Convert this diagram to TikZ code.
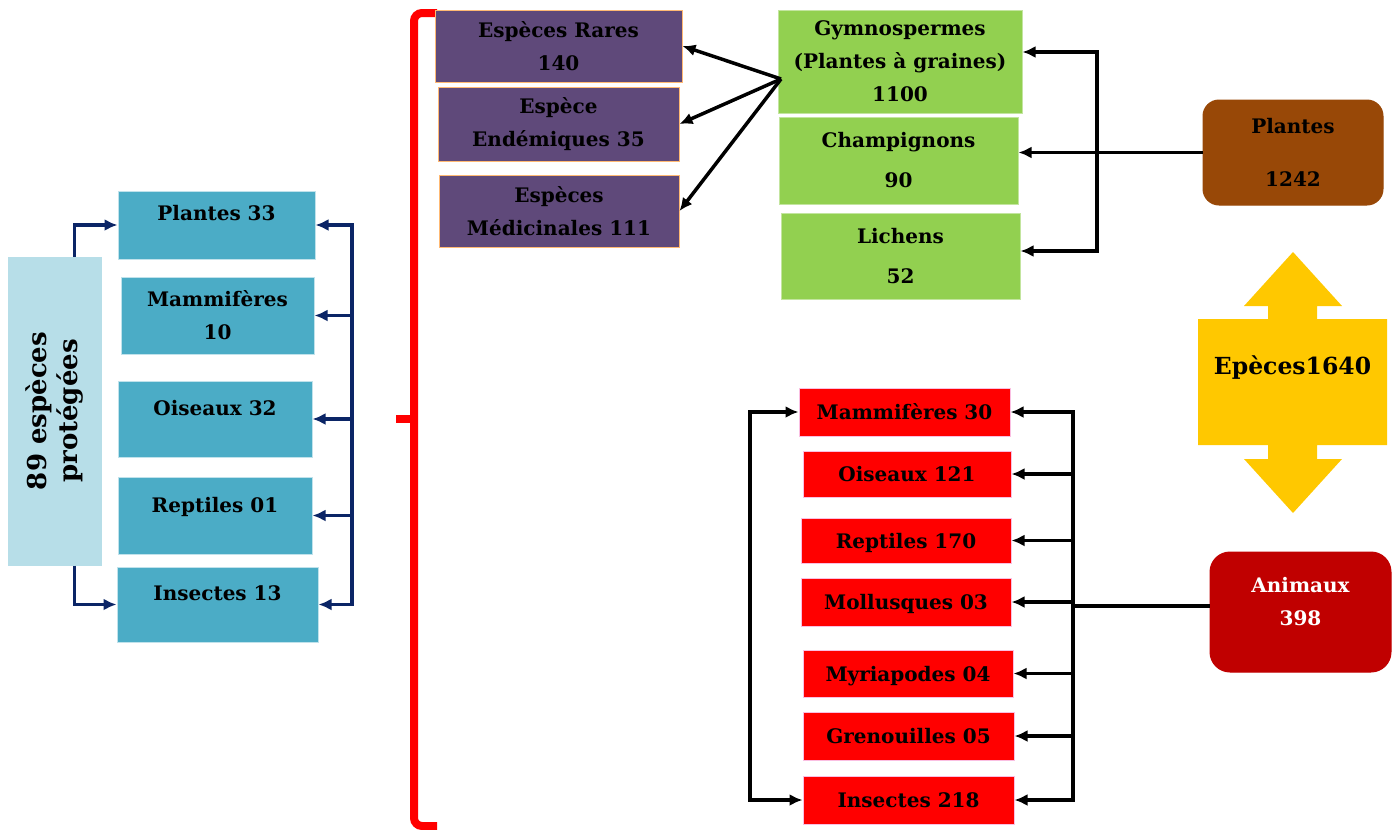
\documentclass[tikz,border=0pt]{standalone}
\usepackage{fontspec}
\setmainfont{DejaVu Serif}
\usetikzlibrary{arrows.meta}
\definecolor{bleuclair}{HTML}{B7DEE8}
\definecolor{bleu}{HTML}{4BACC6}
\definecolor{marine}{HTML}{0B2566}
\definecolor{mauve}{HTML}{5F497A}
\definecolor{vertclair}{HTML}{92D050}
\definecolor{brun}{HTML}{984807}
\definecolor{rougefonce}{HTML}{C00000}
\definecolor{jaune}{HTML}{FFC800}

\begin{document}
\begin{tikzpicture}[x=1pt,y=-1pt]
\tikzset{
  >={Latex[length=13pt,width=12pt]},
  boite/.style={draw, line width=1pt, inner sep=0pt, align=center, font=\bfseries\fontsize{20}{33}\selectfont},
  bleue/.style={boite, fill=bleu, draw=bleu!35},
  mauve/.style={boite, fill=mauve, draw=orange!55},
  verte/.style={boite, fill=vertclair, draw=vertclair!55},
  rouge/.style={boite, fill=red, draw=magenta!25, text height=15pt, text depth=0pt},
  fleche/.style={line width=3.5pt, ->},
  flecheB/.style={fleche, marine}
}
\useasboundingbox (0,0) rectangle (1395,830);

\node[boite, fill=bleuclair, draw=bleuclair, rotate=90, minimum width=308pt, minimum height=93pt,
  font=\bfseries\fontsize{26}{31}\selectfont] (total) at (54.5,411) {89 espèces\\protégées};

\node[bleue, minimum width=197pt, minimum height=68pt, text height=15pt, text depth=24pt] (pl33) at (216.5,225) {Plantes 33};
\node[bleue, minimum width=193pt, minimum height=77pt] (mam10) at (217.5,315.5) {Mammifères\\10};
\node[bleue, minimum width=194pt, minimum height=76pt, text height=15pt, text depth=22pt] (ois32) at (215,419) {Oiseaux 32};
\node[bleue, minimum width=194pt, minimum height=77pt, text height=15pt, text depth=22pt] (rep01) at (215,515.5) {Reptiles 01};
\node[bleue, minimum width=201pt, minimum height=75pt, text height=15pt, text depth=24pt] (ins13) at (217.5,604.5) {Insectes 13};

\draw[flecheB] ([xshift=20pt]total.east) |- (pl33.west);
\draw[flecheB] ([xshift=20pt]total.west) |- (ins13.west);
\coordinate (nb) at (352,0);
\draw[marine, line width=3.5pt, <->] (pl33.east) -- (nb |- pl33.east) -- (nb |- ins13.east) -- (ins13.east);
\foreach \n in {mam10,ois32,rep01}
  \draw[flecheB] (nb |- \n.east) -- (\n.east);

\draw[red, line width=8pt, rounded corners=8pt] (437,13) -- (414,13) -- (414,826) -- (437,826);
\draw[red, line width=8pt] (414,419) -- (396,419);

\node[mauve, minimum width=247pt, minimum height=72pt] (rares) at (558.5,46) {Espèces Rares\\140};
\node[mauve, minimum width=241pt, minimum height=74pt] (endem) at (558.5,124) {Espèce\\Endémiques 35};
\node[mauve, minimum width=240pt, minimum height=72pt] (medic) at (559,211) {Espèces\\Médicinales 111};

\node[verte, minimum width=244pt, minimum height=103pt] (gymno) at (900,61.5) {Gymnospermes\\(Plantes à graines)\\1100};
\node[verte, minimum width=239pt, minimum height=87pt] (champ) at (898.5,160.5) {Champignons\\[7pt]90};
\node[verte, minimum width=239pt, minimum height=86pt] (lichens) at (900.5,256) {Lichens\\[7pt]52};

\coordinate (depart) at (781,79);
\foreach \n in {rares,endem,medic}
  \draw[fleche] (depart) -- (\n.east);

\node[boite, fill=brun, draw=brun, rounded corners=16pt, minimum width=180pt, minimum height=105pt] (plantes) at (1293,152.5) {Plantes\\[20pt]1242};

\coordinate (pa) at (1097,52);
\coordinate (pb) at (1097,251);
\draw[line width=3.5pt, <->] (pa -| gymno.east) -- (pa) -- (pb) -- (pb -| lichens.east);
\draw[fleche] (plantes.west) -- (plantes.west -| champ.east);

\fill[jaune] (1198,319) -- (1268,319) -- (1268,306) -- (1244,306) -- (1293,252) -- (1342,306) -- (1317,306) -- (1317,319)
  -- (1387,319) -- (1387,445) -- (1317,445) -- (1317,459) -- (1342,459) -- (1293,513) -- (1244,459) -- (1268,459)
  -- (1268,445) -- (1198,445) -- cycle;
\node[font=\bfseries\fontsize{23.5}{28}\selectfont, inner sep=0pt] (especes) at (1292.5,368) {Epèces1640};

\node[rouge, minimum width=211pt, minimum height=48pt] (mam30) at (904.5,412) {Mammifères 30};
\node[rouge, minimum width=208pt, minimum height=46pt] (ois121) at (907,474) {Oiseaux 121};
\node[rouge, minimum width=210pt, minimum height=45pt] (rep170) at (906,540.5) {Reptiles 170};
\node[rouge, minimum width=210pt, minimum height=48pt] (mol03) at (906,602) {Mollusques 03};
\node[rouge, minimum width=210pt, minimum height=47pt] (myr04) at (908,673.5) {Myriapodes 04};
\node[rouge, minimum width=211pt, minimum height=48pt] (gre05) at (908.5,736) {Grenouilles 05};
\node[rouge, minimum width=211pt, minimum height=48pt] (ins218) at (908.5,800) {Insectes 218};

\node[boite, fill=rougefonce, draw=rougefonce, text=white, rounded corners=20pt, minimum width=181pt, minimum height=120pt] (animaux) at (1300.5,612) {Animaux\\398\rule[-22pt]{0pt}{0pt}};

\coordinate (ab) at (1073,0);
\draw[line width=3.5pt, <->] (mam30.east) -- (ab |- mam30.east) -- (ab |- ins218.east) -- (ins218.east);
\foreach \n in {ois121,rep170,mol03,myr04,gre05}
  \draw[fleche] (ab |- \n.east) -- (\n.east);
\coordinate (am) at ([yshift=6pt]animaux.west);
\draw[line width=3.5pt] (am) -- (ab |- am);

\coordinate (ag) at (750,0);
\draw[line width=3.5pt, <->] (mam30.west) -- (ag |- mam30.west) -- (ag |- ins218.west) -- (ins218.west);
\end{tikzpicture}
\end{document}
